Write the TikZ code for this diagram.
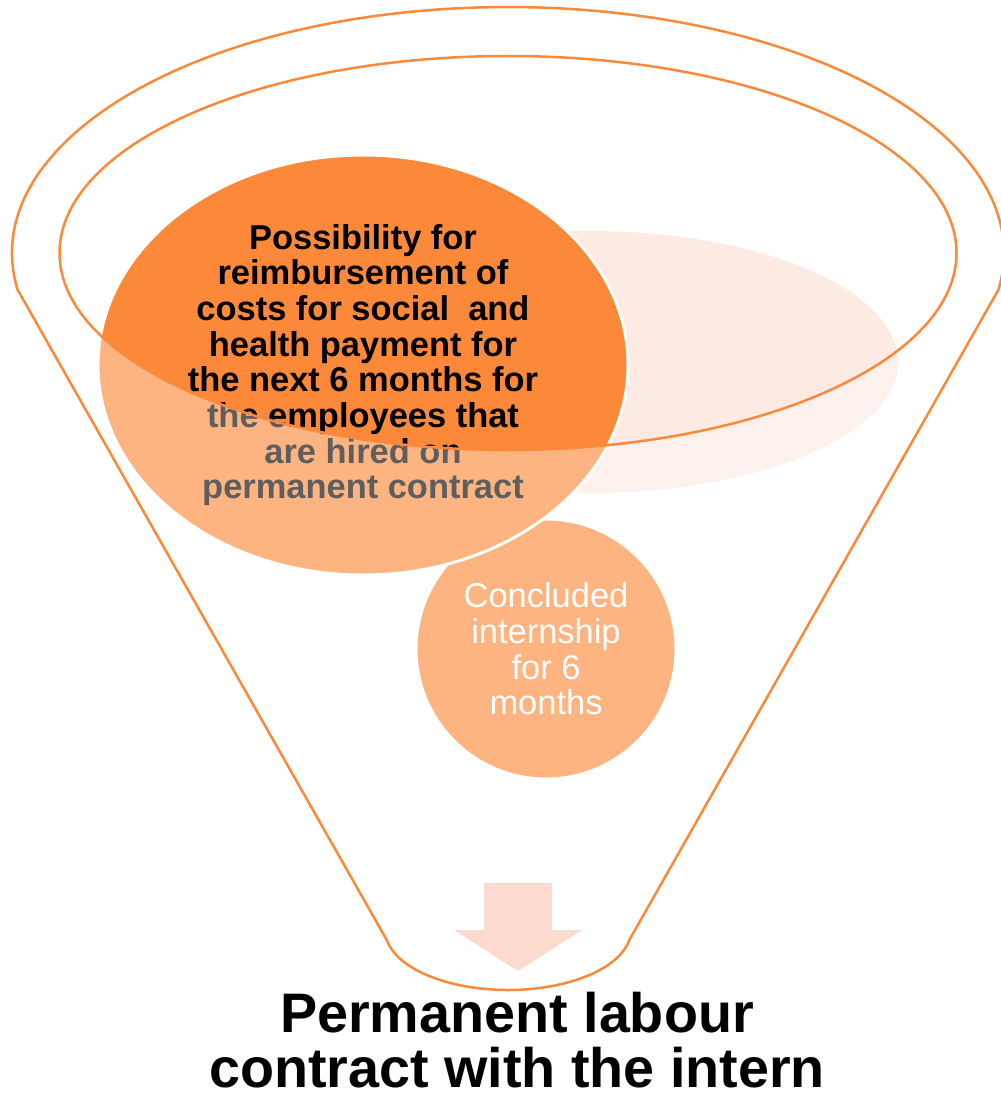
\documentclass[tikz,border=0pt]{standalone}
\usepackage{fontspec}
\setmainfont{Liberation Sans}
\usetikzlibrary{shapes.geometric}
\definecolor{funnelorange}{RGB}{252,137,57}
\definecolor{funnelpale}{RGB}{252,234,227}
\definecolor{arrowpale}{RGB}{253,218,206}

\begin{document}
\begin{tikzpicture}[x=0.2mm,y=-0.2mm,
		bubble/.style={fill=funnelorange,draw=white,line width=0.6mm,inner sep=0pt,align=center},
		rim/.style={draw=funnelorange,line width=0.5mm}]
				\useasboundingbox (0,0) rectangle (1000,1097);
				\fill[funnelpale] (590,362) ellipse (308 and 131);
				\node[bubble,circle,minimum size=52mm,text=white,font=\fontsize{19.6}{20.3}\selectfont] (internship) at (546,649) {Concluded\\internship\\for 6\\months};
				\node[bubble,ellipse,minimum width=106mm,minimum height=84mm,font=\fontsize{19.6}{20.3}\selectfont\bfseries] (refund) at (363,365) {Possibility for\\reimbursement of\\costs for social~~and\\health payment for\\the next 6 months for\\the employees that\\are hired on\\permanent contract};
				% funnel body, lighter than the opening
				\fill[white,opacity=0.37,even odd rule] (17.6,289.8) arc (171.4:368.6:496 and 246) -- (629.3,940) arc (9.6:170.4:123 and 60) -- cycle (508,253) ellipse (448.5 and 197);
				\draw[rim] (17.6,289.8) arc (171.4:368.6:496 and 246) -- (629.3,940) arc (9.6:170.4:123 and 60) -- cycle;
				\draw[rim] (508,253) ellipse (448.5 and 197);
				\fill[arrowpale] (484,883) -- (552,883) -- (552,930) -- (582,930) -- (518,971) -- (454,930) -- (484,930) -- cycle;
				\node[font=\fontsize{31.7}{31.3}\selectfont\bfseries,align=center,inner sep=0pt] (contract) at (517,1040) {Permanent labour\\contract with the intern};
			\end{tikzpicture}
\end{document}
